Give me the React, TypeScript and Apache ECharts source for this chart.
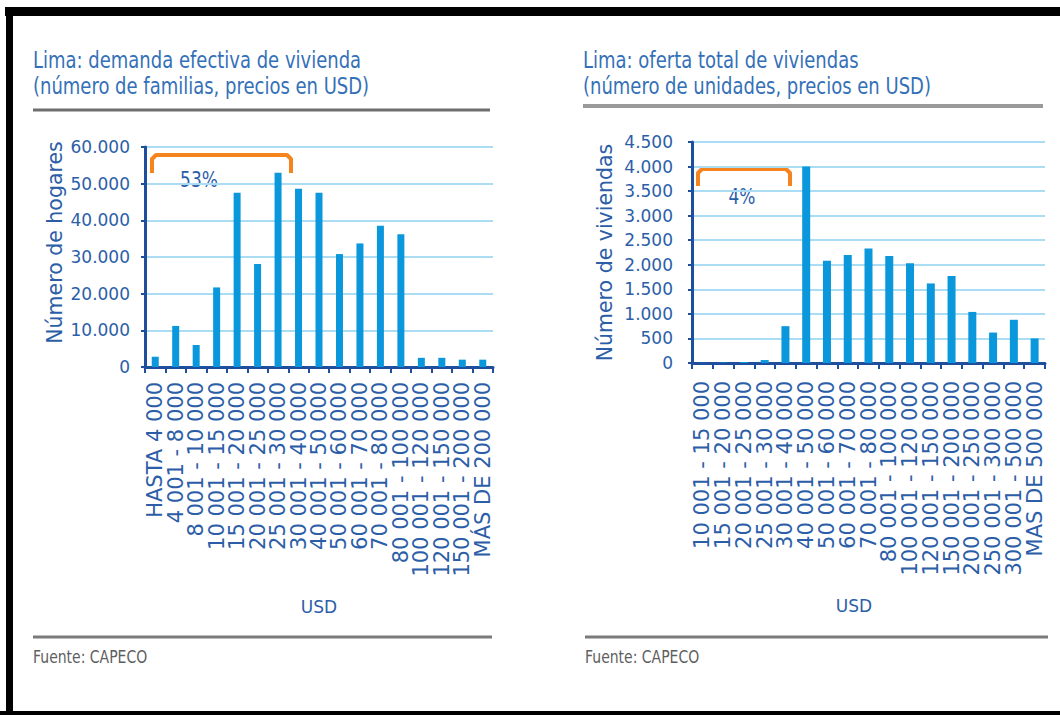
import React, { useEffect, useRef } from "react";
import * as echarts from "echarts";

// Demand: households by price bracket (USD)
const demandCategories = [
  "HASTA 4 000",
  "4 001 - 8 000",
  "8 001 - 10 000",
  "10 001 - 15 000",
  "15 001 - 20 000",
  "20 001 - 25 000",
  "25 001 - 30 000",
  "30 001 - 40 000",
  "40 001 - 50 000",
  "50 001 - 60 000",
  "60 001 - 70 000",
  "70 001 - 80 000",
  "80 001 - 100 000",
  "100 001 - 120 000",
  "120 001 - 150 000",
  "150 001 - 200 000",
  "MÁS DE 200 000",
];
const demandHouseholds = [
  2800, 11200, 6000, 21700, 47500, 28100, 53000, 48600, 47500, 30800, 33700,
  38500, 36200, 2500, 2500, 2000, 2000,
];

// Supply: housing units by price bracket (USD)
const supplyCategories = [
  "10 001 - 15 000",
  "15 001 - 20 000",
  "20 001 - 25 000",
  "25 001 - 30 000",
  "30 001 - 40 000",
  "40 001 - 50 000",
  "50 001 - 60 000",
  "60 001 - 70 000",
  "70 001 - 80 000",
  "80 001 - 100 000",
  "100 001 - 120 000",
  "120 001 - 150 000",
  "150 001 - 200 000",
  "200 001 - 250 000",
  "250 001 - 300 000",
  "300 001 - 500 000",
  "MAS DE 500 000",
];
const supplyUnits = [
  5, 10, 20, 60, 750, 4000, 2080, 2200, 2330, 2180, 2030, 1620, 1770, 1040,
  620, 880, 500,
];

const demandTitle = ["Lima: demanda efectiva de vivienda", "(número de familias, precios en USD)"];
const supplyTitle = ["Lima: oferta total de viviendas", "(número de unidades, precios en USD)"];
const sourceNote = "Fuente: CAPECO";
const demandShare = "53%";
const supplyShare = "4%";

const FONT = "'DejaVu Sans', sans-serif";
const NAVY = "#1F4E9C";
const LABEL_BLUE = "#2C5EA8";
const TITLE_BLUE = "#3470B8";
const BAR_BLUE = "#0A97DB";
const GRID_BLUE = "#AADDF3";
const ORANGE = "#F5841F";

const thousands = (v: number) =>
  String(v).replace(/\B(?=(\d{3})+(?!\d))/g, ".");

function categoryAxis(
  gridIndex: number,
  data: string[],
  labelMargin: number,
  nameGap: number,
  namePadding: number[]
) {
  return {
    type: "category",
    gridIndex,
    data,
    boundaryGap: true,
    name: "USD",
    nameLocation: "middle",
    nameGap,
    nameTextStyle: {
      fontFamily: FONT,
      fontSize: 17,
      color: LABEL_BLUE,
      padding: namePadding,
    },
    axisLine: { show: true, lineStyle: { color: NAVY, width: 3 } },
    axisTick: {
      show: true,
      alignWithLabel: false,
      interval: 0,
      length: 6,
      lineStyle: { color: NAVY, width: 2 },
    },
    axisLabel: {
      interval: 0,
      rotate: 90,
      margin: labelMargin,
      fontFamily: FONT,
      fontSize: 21,
      color: LABEL_BLUE,
    },
    splitLine: { show: false },
  };
}

function valueAxis(
  gridIndex: number,
  max: number,
  interval: number,
  name: string,
  nameGap: number,
  labelMargin: number,
  namePadding: number[]
) {
  return {
    type: "value",
    gridIndex,
    min: 0,
    max,
    interval,
    name,
    nameLocation: "middle",
    nameRotate: 90,
    nameGap,
    nameTextStyle: {
      fontFamily: FONT,
      fontSize: 20.5,
      color: LABEL_BLUE,
      padding: namePadding,
    },
    axisLine: { show: true, lineStyle: { color: NAVY, width: 3 } },
    axisTick: { show: true, length: 4, lineStyle: { color: NAVY, width: 2 } },
    axisLabel: {
      margin: labelMargin,
      fontFamily: FONT,
      fontSize: 17,
      color: LABEL_BLUE,
      formatter: (v: number) => thousands(v),
    },
    splitLine: { show: true, lineStyle: { color: GRID_BLUE, width: 2 } },
  };
}

function stretchedText(text: string, x: number, y: number, fontSize: number, fill: string, scaleY: number, align = "left") {
  return {
    type: "text",
    x,
    y,
    scaleY,
    silent: true,
    style: {
      text,
      fill,
      font: `${fontSize}px ${FONT}`,
      align,
      verticalAlign: "middle",
    },
  };
}

export default function App() {
  const ref = useRef<HTMLDivElement>(null);

  useEffect(() => {
    if (!ref.current) return;
    const chart = echarts.init(ref.current, undefined, { renderer: "svg" });

    const bracket = (x0: number, x1: number, top: number, bottom: number) => ({
      type: "polyline",
      silent: true,
      shape: {
        points: [
          [x0, bottom],
          [x0, top + 4],
          [x0 + 4, top],
          [x1 - 4, top],
          [x1, top + 4],
          [x1, bottom],
        ],
      },
      style: { stroke: ORANGE, lineWidth: 4, lineJoin: "round", fill: null },
    });

    chart.setOption({
      animation: false,
      backgroundColor: "#ffffff",
      grid: [
        { left: 145, top: 147, width: 348, height: 220 },
        { left: 692, top: 142, width: 353, height: 221 },
      ],
      xAxis: [
        categoryAxis(0, demandCategories, 15, 231, [0, 0, 0, 0]),
        categoryAxis(1, supplyCategories, 18, 234, [0, 29, 0, 0]),
      ],
      yAxis: [
        valueAxis(0, 60000, 10000, "Número de hogares", 80, 15, [0, 0, 0, 29]),
        valueAxis(1, 4500, 500, "Número de viviendas", 77, 19, [0, 0, 0, 0]),
      ],
      series: [
        {
          type: "bar",
          xAxisIndex: 0,
          yAxisIndex: 0,
          data: demandHouseholds,
          barWidth: 7,
          itemStyle: { color: BAR_BLUE },
        },
        {
          type: "bar",
          xAxisIndex: 1,
          yAxisIndex: 1,
          data: supplyUnits,
          barWidth: 8,
          itemStyle: { color: BAR_BLUE },
        },
      ],
      graphic: [
        // frame
        { type: "rect", silent: true, shape: { x: 5, y: 7, width: 1055, height: 9 }, style: { fill: "#000" } },
        { type: "rect", silent: true, shape: { x: 6, y: 7, width: 7, height: 708 }, style: { fill: "#000" } },
        { type: "rect", silent: true, shape: { x: 0, y: 711, width: 1060, height: 4 }, style: { fill: "#000" } },

        // titles
        stretchedText(demandTitle[0], 33, 60, 18, TITLE_BLUE, 1.3),
        stretchedText(demandTitle[1], 33, 86, 18, TITLE_BLUE, 1.3),
        stretchedText(supplyTitle[0], 583, 60, 18, TITLE_BLUE, 1.3),
        stretchedText(supplyTitle[1], 583, 86, 18, TITLE_BLUE, 1.3),
        { type: "line", silent: true, shape: { x1: 33, y1: 110, x2: 490, y2: 110 }, style: { stroke: "#6E6E6E", lineWidth: 3 } },
        { type: "line", silent: true, shape: { x1: 583, y1: 106, x2: 1043, y2: 106 }, style: { stroke: "#9A9A9A", lineWidth: 4 } },

        // bracket annotations
        bracket(152, 291, 155, 173),
        stretchedText(demandShare, 199, 180, 17, LABEL_BLUE, 1.2, "center"),
        bracket(698, 790, 169, 186),
        stretchedText(supplyShare, 742, 197, 17, LABEL_BLUE, 1.2, "center"),

        // source notes
        { type: "line", silent: true, shape: { x1: 33, y1: 637, x2: 492, y2: 637 }, style: { stroke: "#7A7A7A", lineWidth: 3 } },
        { type: "line", silent: true, shape: { x1: 585, y1: 637, x2: 1048, y2: 637 }, style: { stroke: "#7A7A7A", lineWidth: 3 } },
        stretchedText(sourceNote, 33, 657, 14, "#5E5E5E", 1.25),
        stretchedText(sourceNote, 585, 657, 14, "#5E5E5E", 1.25),
      ],
    });

    return () => chart.dispose();
  }, []);

  return (
    <div
      ref={ref}
      style={{ position: "fixed", left: 0, top: 0, width: 1060, height: 715, background: "#fff" }}
    />
  );
}
